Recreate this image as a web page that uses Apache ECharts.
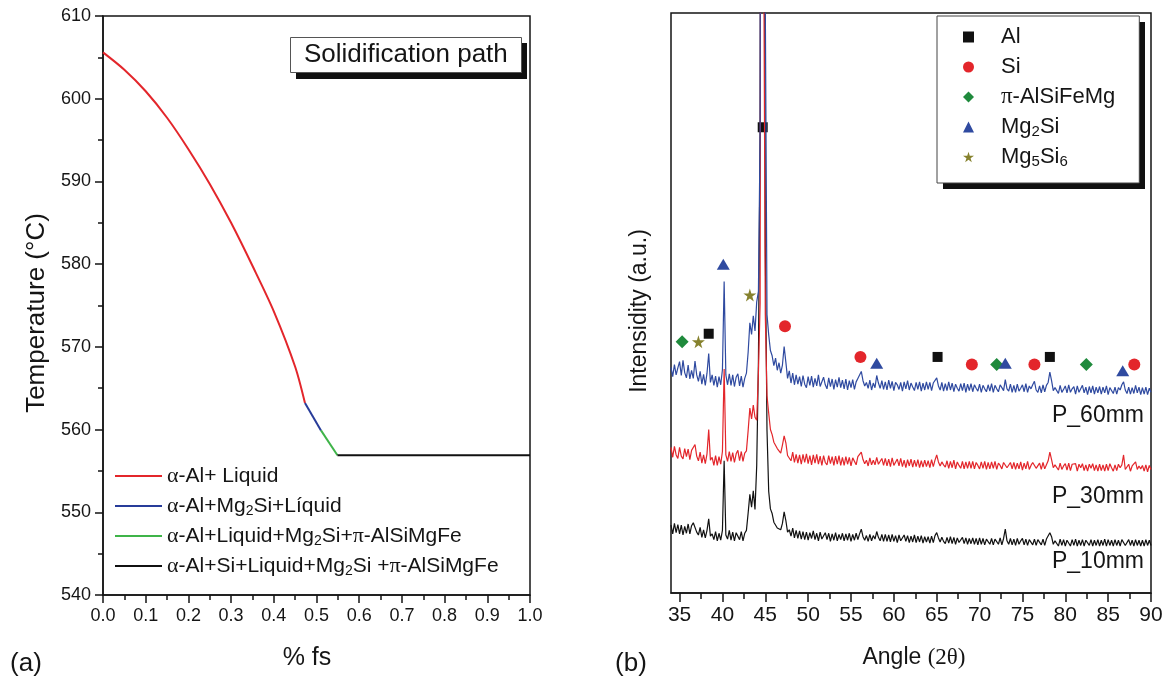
<!DOCTYPE html>
<html>
<head>
<meta charset="utf-8">
<script src="https://cdn.jsdelivr.net/npm/echarts@6/dist/echarts.min.js"></script>
<style>
  html, body { margin: 0; padding: 0; background: #fff; }
  #chart { width: 1175px; height: 680px; }
</style>
</head>
<body>
<div id="chart"></div>
<script>
// ---------- (a) solidification path: fraction solid vs temperature ----------
const fsLiquid   = [0, 0.05, 0.1, 0.15, 0.2, 0.25, 0.3, 0.35, 0.4, 0.45, 0.473];
const tLiquid    = [605.6, 603.5, 600.9, 597.7, 593.9, 589.7, 585.0, 579.8, 574.3, 567.6, 563.2];
const fsMg2Si    = [0.473, 0.5105];
const tMg2Si     = [563.2, 559.9];
const fsPiPhase  = [0.5105, 0.549];
const tPiPhase   = [559.9, 556.9];
const fsEutectic = [0.549, 1.0];
const tEutectic  = [556.9, 556.9];
const pathNames  = ['α-Al+ Liquid', 'α-Al+Mg2Si+Líquid', 'α-Al+Liquid+Mg2Si+π-AlSiMgFe', 'α-Al+Si+Liquid+Mg2Si +π-AlSiMgFe'];

// ---------- (b) XRD patterns, scanned from 34° to 90° in 0.2° steps ----------
const SCAN_START = 34;
const SCAN_STEP = 0.2;
const p60mm = [
  38.9, 37.3, 39.4, 37.6, 38.8, 39.9, 37.5, 40.1, 38.0, 37.1, 39.3, 36.9, 38.4, 37.0, 40.0, 37.6, 36.5, 38.2, 36.0, 37.7, 35.8, 37.9, 41.3, 36.3, 37.6,
  35.8, 37.4, 35.5, 37.3, 35.9, 38.5, 53.7, 37.6, 35.9, 37.8, 35.8, 37.6, 35.6, 37.2, 37.8, 35.7, 37.4, 35.5, 37.0, 37.9, 41.5, 46.6, 44.6, 47.8, 45.2,
  50.2, 52.0, 80.0, 400, 400, 102, 48.0, 44.5, 41.8, 40.9, 39.2, 40.5, 38.4, 39.7, 37.9, 39.3, 42.5, 39.8, 37.0, 38.3, 36.2, 37.9, 35.9, 37.6, 36.0,
  37.3, 35.6, 37.5, 36.0, 35.4, 37.3, 35.8, 37.4, 35.5, 37.0, 35.7, 37.6, 35.6, 35.3, 37.2, 35.9, 35.2, 37.1, 35.6, 36.9, 35.1, 36.8, 35.5, 37.2, 35.4,
  36.7, 35.2, 36.9, 35.0, 36.6, 35.4, 36.8, 35.1, 36.4, 37.0, 37.2, 38.2, 36.6, 35.7, 36.3, 35.3, 36.7, 35.0, 36.2, 35.4, 37.5, 36.2, 35.3, 36.6, 35.1,
  36.4, 35.0, 36.7, 35.3, 36.5, 34.9, 36.3, 35.9, 35.1, 36.3, 34.8, 36.4, 35.2, 36.6, 35.0, 36.2, 35.5, 34.9, 36.3, 35.1, 36.4, 34.8, 36.2, 35.0, 36.4,
  35.1, 36.3, 34.9, 36.2, 36.4, 37.1, 35.7, 35.0, 36.3, 34.8, 36.1, 34.9, 36.4, 35.0, 36.2, 34.7, 36.0, 35.3, 34.8, 36.1, 34.9, 36.2, 34.6, 36.0, 34.9,
  36.1, 34.7, 35.9, 35.3, 34.8, 36.0, 34.6, 35.8, 35.2, 34.7, 35.9, 34.8, 36.1, 34.6, 35.8, 35.2, 34.7, 35.9, 35.4, 34.9, 36.8, 35.2, 34.8, 36.0, 34.6,
  35.8, 34.6, 36.0, 34.8, 35.3, 35.9, 34.7, 36.1, 34.6, 35.7, 35.2, 35.9, 36.5, 35.0, 34.6, 35.7, 34.5, 35.9, 34.7, 35.8, 36.3, 38.1, 36.6, 34.9, 35.4,
  35.6, 34.4, 35.8, 34.6, 35.1, 35.7, 34.5, 35.9, 34.6, 35.2, 35.6, 34.3, 35.7, 34.6, 35.2, 35.8, 34.5, 35.5, 34.2, 35.6, 34.5, 35.7, 34.3, 35.5, 34.5,
  35.6, 34.3, 35.5, 34.5, 35.7, 34.2, 35.4, 35.6, 34.4, 35.5, 34.3, 35.4, 35.0, 35.9, 36.4, 35.0, 34.4, 35.5, 34.3, 35.4, 34.4, 35.8, 34.5, 35.5, 34.2,
  35.4, 34.3, 35.5, 34.2, 35.3, 34.6
];
const p30mm = [
  25.1, 23.4, 25.3, 23.8, 23.2, 25.1, 23.6, 23.1, 24.9, 23.5, 24.8, 23.0, 24.6, 24.9, 25.6, 23.6, 22.8, 24.3, 22.4, 23.8, 22.3, 24.0, 28.2, 22.9, 23.4,
  22.0, 23.7, 22.0, 23.5, 22.2, 24.4, 38.6, 23.8, 22.7, 24.4, 22.7, 24.2, 22.5, 24.0, 24.6, 22.8, 24.4, 22.7, 24.1, 24.5, 28.0, 31.9, 30.0, 32.4, 30.3,
  29.8, 38.0, 50.0, 350, 120, 48.0, 34.0, 31.0, 28.2, 27.3, 26.0, 25.9, 24.9, 25.2, 24.1, 25.5, 27.1, 25.9, 23.7, 24.0, 22.8, 24.3, 22.5, 23.9, 22.4,
  23.8, 22.2, 23.9, 22.5, 24.0, 22.3, 23.7, 22.1, 23.8, 22.4, 23.9, 22.2, 23.6, 22.0, 23.7, 22.5, 22.1, 23.7, 22.3, 23.5, 22.0, 23.6, 22.2, 23.7, 22.0,
  23.4, 22.0, 23.5, 22.2, 23.4, 21.9, 23.3, 23.6, 22.1, 23.5, 23.5, 24.3, 23.0, 22.3, 22.9, 21.9, 23.3, 22.1, 22.9, 22.1, 23.4, 22.2, 21.9, 23.2, 22.0,
  23.2, 21.9, 23.1, 21.8, 23.3, 22.0, 21.8, 23.1, 21.9, 23.2, 21.8, 22.9, 21.6, 23.0, 21.9, 23.1, 21.7, 22.9, 21.8, 23.0, 21.6, 22.8, 21.7, 22.9, 21.8,
  22.8, 21.6, 23.0, 21.8, 22.9, 23.8, 22.6, 21.9, 22.6, 22.1, 21.7, 22.8, 21.5, 22.7, 21.6, 22.9, 21.4, 22.6, 22.0, 21.5, 22.7, 21.4, 22.6, 21.5, 22.7,
  21.5, 22.7, 21.4, 22.5, 22.0, 21.4, 22.6, 21.5, 22.7, 21.3, 22.5, 21.4, 22.6, 21.5, 22.7, 21.3, 22.4, 22.0, 21.4, 22.5, 22.8, 21.6, 21.3, 22.5, 21.4,
  22.5, 21.3, 22.4, 21.4, 22.6, 21.2, 22.4, 21.4, 22.7, 21.3, 22.0, 22.5, 22.7, 21.5, 21.2, 22.4, 21.3, 22.5, 21.4, 22.1, 22.8, 24.3, 23.0, 21.6, 22.1,
  22.3, 21.2, 22.4, 21.3, 21.9, 22.3, 21.2, 22.4, 21.1, 22.2, 21.9, 22.3, 21.0, 22.2, 21.6, 22.3, 21.1, 22.1, 21.0, 22.2, 21.5, 22.3, 21.1, 22.1, 21.0,
  22.2, 21.1, 22.1, 21.0, 22.2, 21.1, 22.3, 21.6, 21.0, 22.1, 21.1, 22.2, 21.6, 22.1, 23.8, 21.3, 21.1, 22.2, 21.0, 21.9, 22.0, 22.6, 21.3, 21.9, 21.4,
  22.0, 21.0, 22.1, 20.9, 22.0, 21.3
];
const p10mm = [
  11.7, 10.2, 12.0, 10.4, 11.8, 10.2, 11.7, 10.0, 11.5, 10.3, 11.9, 10.2, 11.6, 12.1, 12.3, 10.5, 10.0, 11.3, 9.6, 10.9, 9.5, 10.8, 12.8, 9.8, 10.2,
  9.2, 10.6, 9.0, 10.3, 9.1, 10.8, 22.8, 10.0, 9.3, 10.8, 9.1, 10.5, 9.0, 10.4, 10.7, 9.2, 10.6, 9.0, 10.3, 10.8, 13.8, 17.0, 14.8, 17.6, 14.4,
  22.0, 40.0, 80.0, 300, 200, 60.0, 28.0, 17.5, 14.5, 13.7, 12.2, 12.4, 11.2, 11.5, 10.9, 12.0, 14.0, 12.5, 10.5, 10.9, 9.8, 11.2, 9.5, 10.8, 9.4,
  10.7, 9.3, 10.6, 9.2, 10.5, 9.1, 10.4, 9.4, 10.7, 9.2, 10.3, 9.0, 10.5, 9.3, 9.1, 10.4, 9.2, 10.3, 8.9, 10.2, 9.1, 10.4, 9.0, 10.1, 9.2,
  10.3, 9.0, 10.2, 9.1, 10.3, 8.9, 10.1, 9.1, 10.3, 9.2, 10.2, 11.0, 9.7, 9.1, 9.9, 8.9, 10.1, 9.0, 9.9, 9.3, 10.6, 9.6, 9.0, 10.1, 8.9,
  10.1, 8.9, 10.0, 8.8, 10.1, 8.9, 9.9, 8.7, 10.0, 9.0, 8.8, 10.0, 8.9, 9.9, 8.7, 9.8, 8.8, 10.0, 8.7, 9.8, 8.8, 9.9, 8.6, 9.7, 8.8,
  9.7, 8.6, 9.8, 8.7, 9.9, 10.4, 9.5, 8.8, 9.6, 8.9, 8.5, 9.6, 8.6, 9.7, 8.5, 9.6, 8.4, 9.5, 8.7, 8.4, 9.6, 8.5, 9.5, 8.4, 9.4,
  8.5, 9.5, 8.4, 9.4, 8.3, 9.5, 8.4, 9.4, 8.3, 9.3, 9.5, 8.4, 9.4, 8.3, 9.3, 9.4, 8.4, 9.5, 8.3, 9.4, 11.0, 9.0, 8.4, 9.4, 8.3,
  9.3, 8.2, 9.4, 8.4, 9.0, 9.4, 8.3, 9.3, 8.2, 9.2, 9.4, 8.3, 9.3, 8.2, 9.2, 9.4, 8.3, 9.3, 8.2, 9.3, 9.6, 10.4, 9.7, 8.4, 9.0,
  9.2, 8.1, 9.3, 8.2, 9.2, 8.1, 9.1, 9.3, 8.1, 9.2, 8.2, 9.3, 8.1, 9.1, 8.2, 9.2, 8.1, 9.1, 9.3, 8.2, 9.2, 8.1, 9.1, 8.2, 9.2,
  8.1, 9.1, 8.2, 9.3, 8.1, 9.2, 8.2, 9.1, 8.1, 9.2, 8.2, 9.1, 8.1, 9.2, 9.3, 8.2, 8.1, 9.2, 8.2, 9.1, 8.1, 9.2, 8.2, 9.1, 8.1,
  9.1, 8.1, 9.2, 8.2, 9.1, 8.2
];

// phase identification markers [2θ, height]
const peaksAl     = [[38.4, 44.7], [44.7, 80.3], [65.1, 40.7], [78.2, 40.7]];
const peaksSi     = [[47.3, 46.0], [56.1, 40.7], [69.1, 39.4], [76.4, 39.4], [88.05, 39.4]];
const peaksPi     = [[35.3, 43.3], [72.0, 39.4], [82.45, 39.4]];
const peaksMg2Si  = [[40.1, 56.7], [58.0, 39.6], [73.0, 39.6], [86.7, 38.3]];
const peaksMg5Si6 = [[37.2, 43.3], [43.2, 51.4]];

const angleTicks = [35, 40, 45, 50, 55, 60, 65, 70, 75, 80, 85, 90];
const angleMinorTicks = [37.5, 42.5, 47.5, 52.5, 57.5, 62.5, 67.5, 72.5, 77.5, 82.5, 87.5];

// ---------- helpers ----------
const SANS = "'Liberation Sans', Arial, Helvetica, sans-serif";
const SERIF = "'Liberation Serif', 'Times New Roman', serif";
const INK = '#151515';

function pairs(xs, ys) { return xs.map((x, i) => [x, ys[i]]); }
function scan(values) {
  return values.map((v, i) => [+(SCAN_START + i * SCAN_STEP).toFixed(1), v]);
}
function richName(name) {
  return name
    .replace(/([απ])/g, '{g|$1}')
    .replace(/(Mg|Si)(\d)/g, '$1{s|$2}');
}
const STAR = 'path://M50,0 L61,35 L98,35 L68,57 L79,91 L50,70 L21,91 L32,57 L2,35 L39,35 Z';

const axisLineStyle = { color: INK, width: 1.5 };
const centered = { align: 'center', verticalAlign: 'middle', textAlign: 'center', textVerticalAlign: 'middle' };
const rightMid = { align: 'right', verticalAlign: 'middle', textAlign: 'right', textVerticalAlign: 'middle' };

const chart = echarts.init(document.getElementById('chart'), null, { renderer: 'canvas' });

chart.setOption({
  animation: false,
  backgroundColor: '#fff',
  textStyle: { fontFamily: SANS },
  title: {
    text: 'Solidification path',
    left: 290, top: 37,
    padding: [5, 14, 5, 14],
    backgroundColor: '#fff',
    borderColor: '#555', borderWidth: 1,
    textStyle: { fontFamily: SANS, fontSize: 26, lineHeight: 26, fontWeight: 'normal', color: INK }
  },
  legend: [
    {
      data: pathNames,
      orient: 'vertical',
      left: 115, top: 464,
      padding: 0,
      itemGap: 6,
      icon: 'rect',
      itemWidth: 47, itemHeight: 2,
      selectedMode: false,
      formatter: richName,
      textStyle: {
        fontFamily: SANS, fontSize: 21, color: INK, lineHeight: 24,
        rich: {
          g: { fontFamily: SERIF, fontSize: 22, color: INK },
          s: { fontFamily: SANS, fontSize: 14, color: INK, lineHeight: 6, verticalAlign: 'bottom' }
        }
      }
    },
    {
      data: ['Al', 'Si', 'π-AlSiFeMg', 'Mg2Si', 'Mg5Si6'],
      orient: 'vertical',
      left: 937, top: 16,
      padding: [9, 24, 14, 26],
      itemGap: 6,
      itemWidth: 11, itemHeight: 11,
      selectedMode: false,
      backgroundColor: '#fff',
      borderColor: '#444', borderWidth: 1,
      formatter: richName,
      textStyle: {
        fontFamily: SANS, fontSize: 22, color: INK, lineHeight: 24,
        padding: [0, 0, 0, 22],
        rich: {
          g: { fontFamily: SERIF, fontSize: 23, color: INK },
          s: { fontFamily: SANS, fontSize: 15, color: INK, lineHeight: 6, verticalAlign: 'bottom' }
        }
      }
    }
  ],
  grid: [
    { left: 103, top: 16, width: 427, height: 579, show: true, borderColor: INK, borderWidth: 1.5, backgroundColor: 'transparent' },
    { left: 671, top: 13, width: 480, height: 580, show: true, borderColor: INK, borderWidth: 1.5, backgroundColor: 'transparent' }
  ],
  xAxis: [
    {
      gridIndex: 0, type: 'value', min: 0, max: 1, interval: 0.1,
      axisLine: { show: true, onZero: false, lineStyle: axisLineStyle },
      axisTick: { show: true, inside: false, length: 8, lineStyle: axisLineStyle },
      minorTick: { show: true, splitNumber: 2, length: 5, lineStyle: axisLineStyle },
      axisLabel: { fontFamily: SANS, fontSize: 18, color: INK, margin: 12, formatter: v => v.toFixed(1) },
      splitLine: { show: false }
    },
    {
      gridIndex: 1, type: 'value', min: 34, max: 90,
      axisLine: { show: true, onZero: false, lineStyle: axisLineStyle },
      axisTick: { show: true, inside: false, length: 9, lineStyle: axisLineStyle, customValues: angleTicks },
      axisLabel: { fontFamily: SANS, fontSize: 21, color: INK, margin: 12, customValues: angleTicks },
      splitLine: { show: false }
    },
    {
      gridIndex: 1, type: 'value', min: 34, max: 90, position: 'bottom', offset: 0,
      axisLine: { show: false, onZero: false },
      axisTick: { show: true, inside: false, length: 6, lineStyle: axisLineStyle, customValues: angleMinorTicks },
      axisLabel: { show: false },
      splitLine: { show: false }
    }
  ],
  yAxis: [
    {
      gridIndex: 0, type: 'value', min: 540, max: 610, interval: 10,
      axisLine: { show: true, onZero: false, lineStyle: axisLineStyle },
      axisTick: { show: true, inside: false, length: 8, lineStyle: axisLineStyle },
      minorTick: { show: true, splitNumber: 2, length: 5, lineStyle: axisLineStyle },
      axisLabel: { fontFamily: SANS, fontSize: 18, color: INK, margin: 12 },
      splitLine: { show: false }
    },
    {
      gridIndex: 1, type: 'value', min: 0, max: 100,
      axisLine: { show: false },
      axisTick: { show: false },
      axisLabel: { show: false },
      splitLine: { show: false }
    }
  ],
  series: [
    // (a) solidification path segments
    { name: pathNames[0], type: 'line', xAxisIndex: 0, yAxisIndex: 0, data: pairs(fsLiquid, tLiquid),
      smooth: 0.3, symbol: 'none', color: '#e3262b', lineStyle: { width: 2, color: '#e3262b' } },
    { name: pathNames[1], type: 'line', xAxisIndex: 0, yAxisIndex: 0, data: pairs(fsMg2Si, tMg2Si),
      symbol: 'none', color: '#283c99', lineStyle: { width: 2, color: '#283c99' } },
    { name: pathNames[2], type: 'line', xAxisIndex: 0, yAxisIndex: 0, data: pairs(fsPiPhase, tPiPhase),
      symbol: 'none', color: '#3fb449', lineStyle: { width: 2, color: '#3fb449' } },
    { name: pathNames[3], type: 'line', xAxisIndex: 0, yAxisIndex: 0, data: pairs(fsEutectic, tEutectic),
      symbol: 'none', color: '#111', lineStyle: { width: 2, color: '#111' } },

    // (b) diffraction patterns
    { name: 'P_10mm', type: 'line', xAxisIndex: 1, yAxisIndex: 1, data: scan(p10mm),
      symbol: 'none', clip: true, color: '#111', lineStyle: { width: 1.2, color: '#111' } },
    { name: 'P_30mm', type: 'line', xAxisIndex: 1, yAxisIndex: 1, data: scan(p30mm),
      symbol: 'none', clip: true, color: '#e3262b', lineStyle: { width: 1.2, color: '#e3262b' } },
    { name: 'P_60mm', type: 'line', xAxisIndex: 1, yAxisIndex: 1, data: scan(p60mm),
      symbol: 'none', clip: true, color: '#2f4aa0', lineStyle: { width: 1.2, color: '#2f4aa0' } },

    // (b) phase markers
    { name: 'Al', type: 'scatter', xAxisIndex: 1, yAxisIndex: 1, data: peaksAl,
      symbol: 'rect', symbolSize: 10, itemStyle: { color: '#111', opacity: 1 } },
    { name: 'Si', type: 'scatter', xAxisIndex: 1, yAxisIndex: 1, data: peaksSi,
      symbol: 'circle', symbolSize: 12, itemStyle: { color: '#e3262b', opacity: 1 } },
    { name: 'π-AlSiFeMg', type: 'scatter', xAxisIndex: 1, yAxisIndex: 1, data: peaksPi,
      symbol: 'diamond', symbolSize: 13, itemStyle: { color: '#1f8a3c', opacity: 1 } },
    { name: 'Mg2Si', type: 'scatter', xAxisIndex: 1, yAxisIndex: 1, data: peaksMg2Si,
      symbol: 'triangle', symbolSize: [13, 11], itemStyle: { color: '#2f4aa0', opacity: 1 } },
    { name: 'Mg5Si6', type: 'scatter', xAxisIndex: 1, yAxisIndex: 1, data: peaksMg5Si6,
      symbol: STAR, symbolSize: 13, itemStyle: { color: '#86822e', opacity: 1 } }
  ],
  graphic: [
    // drop shadows behind the title box and the phase legend
    { type: 'rect', z: 1, shape: { x: 296, y: 43, width: 231, height: 36 }, style: { fill: '#111' } },
    { type: 'rect', z: 1, shape: { x: 943, y: 22, width: 202, height: 167 }, style: { fill: '#111' } },

    { type: 'text', x: 37, y: 313, rotation: Math.PI / 2,
      style: Object.assign({ text: 'Temperature (°C)', font: '26px ' + SANS, fill: INK }, centered) },
    { type: 'text', x: 307, y: 658,
      style: Object.assign({ text: '% fs', font: '25px ' + SANS, fill: INK }, centered) },
    { type: 'text', x: 26, y: 664,
      style: Object.assign({ text: '(a)', font: '26px ' + SANS, fill: INK }, centered) },
    { type: 'text', x: 640, y: 311, rotation: Math.PI / 2,
      style: Object.assign({ text: 'Intensidity (a.u.)', font: '23px ' + SANS, fill: INK }, centered) },
    { type: 'text', x: 914, y: 658,
      style: Object.assign({ text: 'Angle {s|(2θ)}', font: '23px ' + SANS, fill: INK,
               rich: { s: { fontFamily: SERIF, fontSize: 23, fill: INK } } }, centered) },
    { type: 'text', x: 631, y: 664,
      style: Object.assign({ text: '(b)', font: '26px ' + SANS, fill: INK }, centered) },
    { type: 'text', x: 1144, y: 416,
      style: Object.assign({ text: 'P_60mm', font: '23px ' + SANS, fill: INK }, rightMid) },
    { type: 'text', x: 1144, y: 497,
      style: Object.assign({ text: 'P_30mm', font: '23px ' + SANS, fill: INK }, rightMid) },
    { type: 'text', x: 1144, y: 562,
      style: Object.assign({ text: 'P_10mm', font: '23px ' + SANS, fill: INK }, rightMid) }
  ]
});
</script>
</body>
</html>
